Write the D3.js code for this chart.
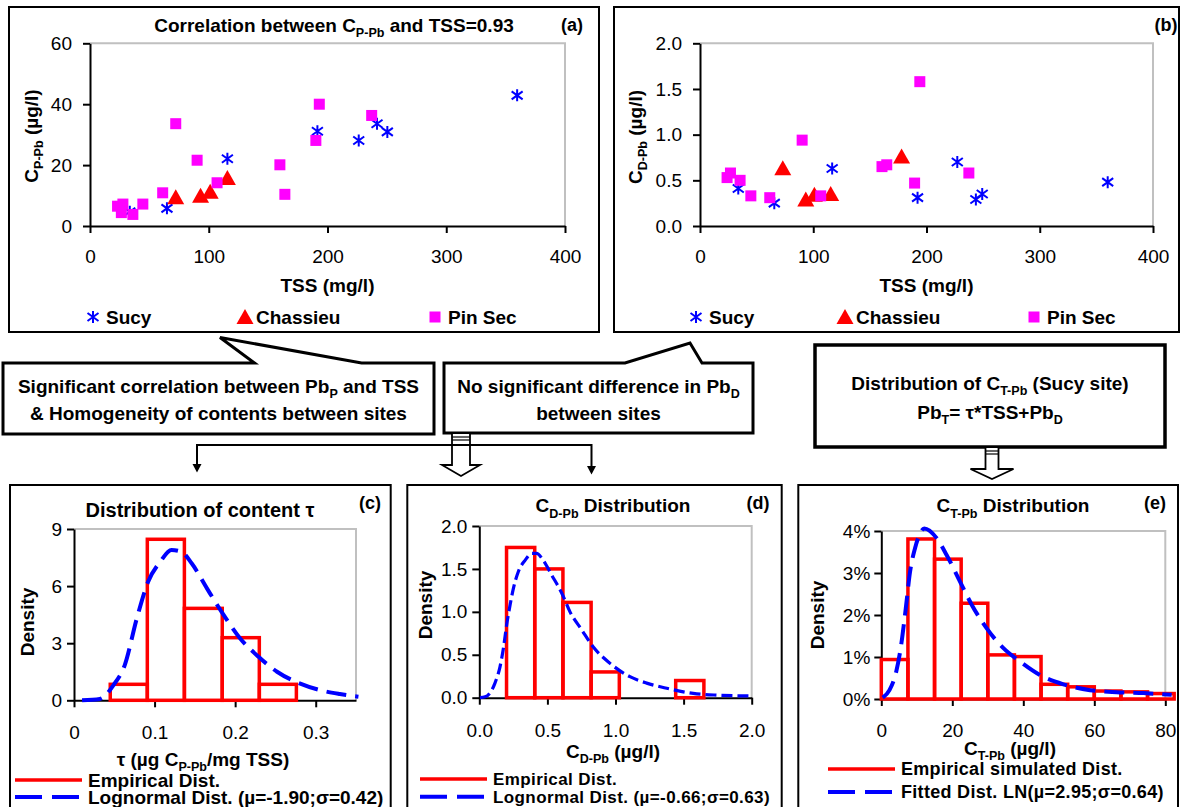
<!DOCTYPE html>
<html>
<head>
<meta charset="utf-8">
<script src="https://cdn.jsdelivr.net/npm/d3@7"></script>
<style>
  html, body { margin: 0; padding: 0; background: #fff; }
  svg { display: block; }
</style>
</head>
<body>
<svg id="fig" width="1182" height="807"></svg>
<script>
// ---- (a) particulate Pb vs TSS, per site ----
const sucyTssP = [33.5, 64.8, 115.7, 191.5, 226.3, 241.7, 250.4, 359.7];
const sucyCP = [4.7, 5.8, 22.1, 31.1, 28.1, 33.6, 30.9, 42.9];
const chassieuTssP = [72.2, 93.1, 101.2, 115.7];
const chassieuCP = [9.1, 9.6, 10.9, 15.4];
const pinSecTssP = [23.2, 27.7, 26.4, 36.1, 44.5, 61.2, 72.2, 90.2, 107.0, 159.9, 164.1, 190.2, 193.1, 237.2];
const pinSecCP = [6.5, 7.2, 4.4, 3.8, 7.2, 10.9, 33.6, 21.6, 14.2, 20.1, 10.4, 28.1, 40.0, 36.3];

// ---- (b) dissolved Pb vs TSS, per site ----
const sucyTssD = [33.8, 65.6, 116.7, 192.1, 227.2, 243.6, 249.2, 360.0];
const sucyCD = [0.41, 0.25, 0.63, 0.31, 0.70, 0.29, 0.35, 0.48];
const chassieuTssD = [73.1, 93.4, 101.0, 115.4, 178.0];
const chassieuCD = [0.62, 0.28, 0.33, 0.34, 0.75];
const pinSecTssD = [23.9, 26.9, 35.4, 44.9, 61.6, 90.2, 106.6, 160.7, 164.9, 189.5, 194.1, 237.4];
const pinSecCD = [0.53, 0.58, 0.50, 0.33, 0.31, 0.94, 0.33, 0.65, 0.67, 0.47, 1.58, 0.58];

// ---- (c) content tau: histogram + fitted lognormal ----
const tauBinEdges = [0, 0.045, 0.091, 0.137, 0.184, 0.230, 0.276, 0.322, 0.36];
const tauDensity = [0, 0.84, 8.46, 4.83, 3.29, 0.84, 0, 0];
const tauCurveX = [0.01, 0.032, 0.049, 0.063, 0.078, 0.092, 0.107, 0.121, 0.133, 0.146, 0.165, 0.183, 0.206, 0.229, 0.252, 0.280, 0.305, 0.33, 0.353];
const tauCurveY = [0, 0.07, 0.8, 1.85, 4.31, 6.23, 7.28, 7.9, 7.81, 7.2, 5.88, 4.66, 3.26, 2.29, 1.5, 0.89, 0.54, 0.33, 0.19];

// ---- (d) dissolved Pb: histogram + fitted lognormal ----
const cdBinEdges = [0, 0.2, 0.407, 0.614, 0.821, 1.028, 1.235, 1.442, 1.649];
const cdDensity = [0, 1.75, 1.50, 1.11, 0.30, 0, 0, 0.20];
const cdCurveX = [0.005, 0.043, 0.115, 0.152, 0.177, 0.201, 0.226, 0.25, 0.287, 0.336, 0.385, 0.42, 0.47, 0.531, 0.605, 0.666, 0.752, 0.837, 0.96, 1.106, 1.229, 1.376, 1.571, 1.742, 1.988];
const cdCurveY = [0, 0.01, 0.17, 0.36, 0.575, 0.85, 1.08, 1.27, 1.47, 1.60, 1.68, 1.68, 1.60, 1.43, 1.22, 1.0, 0.79, 0.59, 0.40, 0.245, 0.17, 0.11, 0.05, 0.03, 0.02];

// ---- (e) total Pb at Sucy: simulated histogram + fitted LN ----
const ctBinEdges = [0, 7.5, 15, 22.5, 30, 37.5, 45, 52.5, 60, 67.5, 75, 82.5];
const ctDensity = [0.0094, 0.0381, 0.0333, 0.0228, 0.0105, 0.0101, 0.0035, 0.0029, 0.0019, 0.0017, 0.0013, 0.0011];
const ctCurveX = [0.4, 2.3, 4.2, 5.6, 6.9, 8.1, 9.5, 10.9, 12.1, 15.6, 18.4, 22.2, 25.5, 29.7, 34.4, 39.1, 44.7, 51.3, 58.8, 66.3, 73.8, 81.8];
const ctCurveY = [0.0003, 0.0021, 0.0065, 0.0129, 0.0216, 0.0303, 0.0359, 0.0394, 0.0406, 0.0383, 0.0343, 0.0279, 0.0224, 0.0168, 0.0121, 0.0089, 0.0057, 0.0035, 0.0021, 0.0016, 0.0014, 0.0010];

// ---- tick values ----
const tssTicks = [0, 100, 200, 300, 400];
const cpTicks = [0, 20, 40, 60];
const cdTicks = [0, 0.5, 1.0, 1.5, 2.0];
const tauTicks = [0, 0.1, 0.2, 0.3];
const tauDensityTicks = [0, 3, 6, 9];
const ctTicks = [0, 20, 40, 60, 80];
const ctDensityTicks = [0, 0.01, 0.02, 0.03, 0.04];

const FONT = "'Liberation Sans', Arial, Helvetica, sans-serif";
const BLUE = "#0000ff", RED = "#ff0000", MAGENTA = "#ff00ff";
const svg = d3.select("#fig");

// text with optional subscript runs: parts = ["text", {sub: "x"}, "text"]
function rich(parent, x, y, parts, o = {}) {
  const size = o.size || 19;
  const t = parent.append("text")
    .attr("x", x).attr("y", y + size * 0.35)
    .attr("text-anchor", o.anchor || "middle")
    .attr("font-family", FONT)
    .attr("font-size", size)
    .attr("font-weight", o.weight || "bold")
    .attr("fill", "#000");
  if (o.rotate) t.attr("transform", `rotate(${o.rotate},${x},${y})`);
  if (o.spacing) t.attr("letter-spacing", o.spacing);
  const shift = size * 0.28;
  let lowered = false;
  parts.forEach(p => {
    if (typeof p === "string") {
      const s = t.append("tspan").text(p);
      if (lowered) { s.attr("dy", -shift); lowered = false; }
    } else {
      t.append("tspan").text(p.sub).attr("font-size", size * 0.66).attr("dy", shift);
      lowered = true;
    }
  });
  return t;
}

function frame(x0, y0, x1, y1) {
  svg.append("rect").attr("x", x0).attr("y", y0).attr("width", x1 - x0).attr("height", y1 - y0)
    .attr("fill", "none").attr("stroke", "#000").attr("stroke-width", 2);
}

function axes(x, y, xt, yt, xf, yf, padX, padY) {
  const [xa, xb] = x.range(), [ya, yb] = y.range();
  svg.append("path").attr("d", `M${xa},${yb}H${xb}V${ya}`)
    .attr("fill", "none").attr("stroke", "#c0c0c0").attr("stroke-width", 2);
  const ax = svg.append("g").attr("transform", `translate(0,${ya})`)
    .call(d3.axisBottom(x).tickValues(xt).tickFormat(xf).tickSizeInner(7).tickSizeOuter(0).tickPadding(padX));
  const ay = svg.append("g").attr("transform", `translate(${xa},0)`)
    .call(d3.axisLeft(y).tickValues(yt).tickFormat(yf).tickSizeInner(7).tickSizeOuter(0).tickPadding(padY));
  [ax, ay].forEach(a => {
    a.select(".domain").attr("stroke", "#000").attr("stroke-width", 2);
    a.selectAll(".tick line").attr("stroke", "#000").attr("stroke-width", 2);
    a.selectAll(".tick text").attr("font-size", 19).attr("font-family", FONT).attr("fill", "#000");
  });
}

// marker shapes
function asterisk(g, cx, cy) {
  g.append("path").attr("d", `M${cx},${cy - 6}V${cy + 6}M${cx - 5.5},${cy - 4}L${cx + 5.5},${cy + 4}M${cx - 5.5},${cy + 4}L${cx + 5.5},${cy - 4}`)
    .attr("stroke", BLUE).attr("stroke-width", 2).attr("fill", "none");
}
function triangle(g, cx, cy) {
  g.append("path").attr("d", `M${cx},${cy - 9}L${cx + 8.5},${cy + 6}L${cx - 8.5},${cy + 6}Z`).attr("fill", RED);
}
function square(g, cx, cy) {
  g.append("rect").attr("x", cx - 5.5).attr("y", cy - 5.5).attr("width", 11).attr("height", 11).attr("fill", MAGENTA);
}

function scatter(x, y, sets) {
  const g = svg.append("g");
  sets.forEach(([xs, ys, mark]) => xs.forEach((v, i) => mark(g, x(v), y(ys[i]))));
}

function siteLegend(yc, pos) {
  const g = svg.append("g");
  asterisk(g, pos[0], yc); rich(g, pos[0] + 13, yc, ["Sucy"], { anchor: "start" });
  triangle(g, pos[1], yc + 1); rich(g, pos[1] + 11, yc, ["Chassieu"], { anchor: "start" });
  square(g, pos[2], yc); rich(g, pos[2] + 13, yc, ["Pin Sec"], { anchor: "start" });
}

function histogram(x, y, edges, dens) {
  svg.append("g").selectAll("rect").data(dens).join("rect")
    .attr("x", (d, i) => x(edges[i]))
    .attr("width", (d, i) => x(edges[i + 1]) - x(edges[i]))
    .attr("y", d => y(d))
    .attr("height", d => y(0) - y(d))
    .attr("fill", "none").attr("stroke", RED).attr("stroke-width", 3.5);
}

function curve(x, y, xs, ys, dash, width) {
  const line = d3.line().x(d => x(d[0])).y(d => y(d[1])).curve(d3.curveMonotoneX);
  svg.append("path").attr("d", line(xs.map((v, i) => [v, ys[i]])))
    .attr("fill", "none").attr("stroke", BLUE).attr("stroke-width", width)
    .attr("stroke-dasharray", dash);
}

function distLegend(x0, y1, y2, label1, label2, o = {}) {
  svg.append("line").attr("x1", x0).attr("x2", x0 + 67).attr("y1", y1).attr("y2", y1)
    .attr("stroke", RED).attr("stroke-width", 3.5);
  svg.append("line").attr("x1", x0).attr("x2", x0 + 67).attr("y1", y2).attr("y2", y2)
    .attr("stroke", BLUE).attr("stroke-width", 4).attr("stroke-dasharray", "27,10");
  rich(svg, x0 + 73, y1, [label1], { anchor: "start", size: o.size || 19, spacing: o.spacing });
  rich(svg, x0 + 73, y2, [label2], { anchor: "start", size: o.size || 19, spacing: o.spacing });
}

const fmt1 = d3.format(".1f");

// ================= panel (a) =================
frame(9, 7, 599, 332);
const xA = d3.scaleLinear().domain([0, 400]).range([90, 565]);
const yA = d3.scaleLinear().domain([0, 60]).range([226, 43.3]);
axes(xA, yA, tssTicks, cpTicks, d3.format("d"), d3.format("d"), 17, 11);
scatter(xA, yA, [[sucyTssP, sucyCP, asterisk], [chassieuTssP, chassieuCP, triangle], [pinSecTssP, pinSecCP, square]]);
rich(svg, 334, 25, ["Correlation between C", { sub: "P-Pb" }, " and TSS=0.93"], { size: 19 });
rich(svg, 572, 25, ["(a)"], { size: 18 });
rich(svg, 327.5, 285, ["TSS (mg/l)"]);
rich(svg, 31, 136, ["C", { sub: "P-Pb" }, " (µg/l)"], { rotate: -90 });
siteLegend(317, [93, 245, 435]);

// ================= panel (b) =================
frame(614, 7, 1179, 332);
const xB = d3.scaleLinear().domain([0, 400]).range([700, 1153]);
const yB = d3.scaleLinear().domain([0, 2]).range([226, 43.3]);
axes(xB, yB, tssTicks, cdTicks, d3.format("d"), fmt1, 17, 11);
scatter(xB, yB, [[sucyTssD, sucyCD, asterisk], [chassieuTssD, chassieuCD, triangle], [pinSecTssD, pinSecCD, square]]);
rich(svg, 1166, 25, ["(b)"], { size: 18 });
rich(svg, 926.5, 285, ["TSS (mg/l)"]);
rich(svg, 635, 137, ["C", { sub: "D-Pb" }, " (µg/l)"], { rotate: -90 });
siteLegend(317, [696, 845, 1034]);

// ================= callouts and connectors =================
const callouts = svg.append("g").attr("fill", "#fff").attr("stroke", "#000").attr("stroke-width", 3).attr("stroke-linejoin", "miter");
callouts.append("path").attr("d", "M3,363H254.5L220,337.5L361.6,363H434V434H3Z");
callouts.append("path").attr("d", "M444,363H625L690,343L702,363H753V433H444Z");
callouts.append("rect").attr("x", 815).attr("y", 345).attr("width", 350).attr("height", 102).attr("stroke-width", 3.5);

rich(svg, 218.5, 386, ["Significant correlation between Pb", { sub: "P" }, " and TSS"]);
rich(svg, 218.5, 413, ["& Homogeneity of contents between sites"]);
rich(svg, 598.5, 386, ["No significant difference in Pb", { sub: "D" }]);
rich(svg, 598.5, 413, ["between sites"]);
rich(svg, 990, 383, ["Distribution of C", { sub: "T-Pb" }, " (Sucy site)"]);
rich(svg, 990, 412, ["Pb", { sub: "T" }, "= τ*TSS+Pb", { sub: "D" }]);

// hollow block arrows
function blockArrow(cx, top, shaftW, headTop, headW, tip) {
  const g = svg.append("g");
  g.append("path").attr("d", `M${cx - shaftW / 2},${top}V${headTop}H${cx - headW / 2}L${cx},${tip}L${cx + headW / 2},${headTop}H${cx + shaftW / 2}V${top}`)
    .attr("fill", "#fff").attr("stroke", "#000").attr("stroke-width", 1.8);
  [3, 6].forEach(dy => g.append("line").attr("x1", cx - shaftW / 2).attr("x2", cx + shaftW / 2)
    .attr("y1", top + dy).attr("y2", top + dy).attr("stroke", "#000").attr("stroke-width", 1.2));
}
blockArrow(461, 434, 18, 465, 38, 476);
blockArrow(992, 448, 13, 469, 43, 479);

// branching connector with two small arrowheads
svg.append("path").attr("d", "M197,466V445H591.5V467").attr("fill", "none").attr("stroke", "#000").attr("stroke-width", 2);
svg.append("path").attr("d", "M192.5,464L201.5,464L197,472.5Z M587,466L596,466L591.5,474.5Z").attr("fill", "#000");

// ================= panel (c) =================
frame(10, 485, 390.7, 830);
const xC = d3.scaleLinear().domain([0, 0.35]).range([74, 356]);
const yC = d3.scaleLinear().domain([0, 9]).range([700.3, 529]);
axes(xC, yC, tauTicks, tauDensityTicks, v => v === 0 ? "0" : fmt1(v), d3.format("d"), 18, 5);
histogram(xC, yC, tauBinEdges, tauDensity);
curve(xC, yC, tauCurveX, tauCurveY, "20,9", 4);
rich(svg, 200, 510, ["Distribution of content τ"], { size: 20 });
rich(svg, 370, 503, ["(c)"], { size: 18 });
rich(svg, 203, 759, ["τ (µg C", { sub: "P-Pb" }, "/mg TSS)"]);
rich(svg, 27, 622, ["Density"], { rotate: -90 });
distLegend(15, 780, 797, "Empirical Dist.", "Lognormal Dist. (µ=-1.90;σ=0.42)");

// ================= panel (d) =================
frame(407.3, 485, 781.7, 830);
const xD = d3.scaleLinear().domain([0, 2]).range([479.3, 751.7]);
const yD = d3.scaleLinear().domain([0, 2]).range([697.7, 526]);
axes(xD, yD, cdTicks, cdTicks, fmt1, fmt1, 19, 5);
histogram(xD, yD, cdBinEdges, cdDensity);
curve(xD, yD, cdCurveX, cdCurveY, "11,5", 3.2);
rich(svg, 613, 505.7, ["C", { sub: "D-Pb" }, " Distribution"]);
rich(svg, 758, 503, ["(d)"], { size: 18 });
rich(svg, 613, 751, ["C", { sub: "D-Pb" }, " (µg/l)"]);
rich(svg, 425, 605, ["Density"], { rotate: -90 });
distLegend(420, 779, 796.7, "Empirical Dist.", "Lognormal Dist. (µ=-0.66;σ=0.63)", { size: 17, spacing: 0.4 });

// ================= panel (e) =================
frame(798.3, 485, 1178, 830);
const xE = d3.scaleLinear().domain([0, 80]).range([881.3, 1165.3]);
const yE = d3.scaleLinear().domain([0, 0.04]).range([699, 531]);
axes(xE, yE, ctTicks, ctDensityTicks, d3.format("d"), d3.format(".0%"), 18, 4);
histogram(xE, yE, ctBinEdges, ctDensity);
curve(xE, yE, ctCurveX, ctCurveY, "20,9", 4);
rich(svg, 1013, 505.7, ["C", { sub: "T-Pb" }, " Distribution"]);
rich(svg, 1155, 503, ["(e)"], { size: 18 });
rich(svg, 1010, 748, ["C", { sub: "T-Pb" }, " (µg/l)"]);
rich(svg, 817, 615, ["Density"], { rotate: -90 });
distLegend(828, 769, 792, "Empirical simulated Dist.", "Fitted Dist. LN(µ=2.95;σ=0.64)", { size: 18, spacing: 0.3 });
</script>
</body>
</html>
